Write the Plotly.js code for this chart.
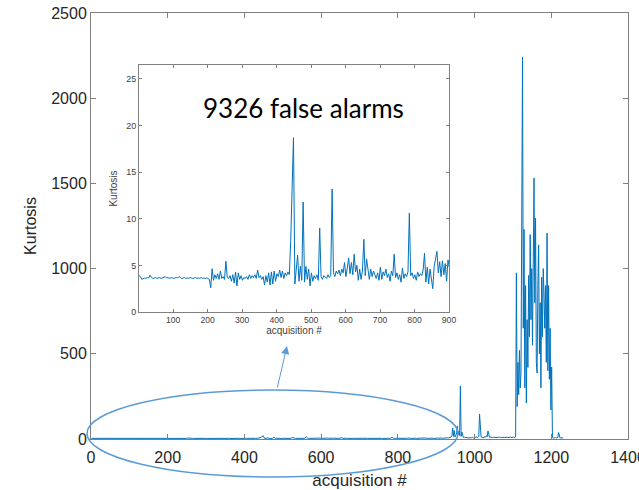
<!DOCTYPE html>
<html>
<head>
<meta charset="utf-8">
<script src="https://cdn.plot.ly/plotly-3.0.1.min.js"></script>
<style>html,body{margin:0;padding:0;background:#fff;}#chart{width:639px;height:490px;}</style>
</head>
<body>
<div id="chart"></div>
<script>
// Kurtosis per acquisition, acquisitions 1..897 (every 4th acquisition)
const acqStartA = 1, acqStepA = 4;
const kurtosisA = [
  3.9, 3.8, 3.5, 3.6, 3.65, 3.6, 3.7, 3.65, 3.95, 3.7,      // 1..37
  3.6, 3.65, 3.7, 3.6, 3.65, 3.7, 3.6, 3.65, 3.75, 3.8,     // 41..77
  3.65, 3.7, 3.6, 3.65, 3.7, 3.6, 3.65, 3.7, 3.65, 3.8,     // 81..117
  3.7, 3.6, 3.65, 3.7, 3.6, 3.65, 3.6, 3.7, 3.65, 3.6,      // 121..157
  3.65, 3.7, 3.6, 3.65, 3.6, 3.7, 3.6, 3.65, 3.6, 3.65,     // 161..197
  3.6, 3.5, 2.6, 4.65, 3.4, 4.0, 3.6, 4.1, 3.5, 4.4,        // 201..237
  3.6, 3.8, 3.5, 5.45, 3.7, 3.6, 3.9, 3.3, 4.0, 3.1,        // 241..277
  4.3, 2.8, 4.2, 3.5, 3.9, 3.4, 3.7, 3.6, 3.8, 3.5,         // 281..317
  4.0, 3.6, 3.9, 3.7, 4.0, 3.6, 4.5, 3.7, 3.9, 3.5,         // 321..357
  3.8, 2.9, 3.9, 3.2, 4.2, 2.9, 4.3, 3.0, 4.4, 3.3,         // 361..397
  4.1, 3.8, 4.5, 3.7, 4.4, 3.6, 4.2, 3.9, 4.3, 4.0,         // 401..437
  7.7, 12.5, 18.7, 3.0, 4.8, 6.1, 3.3, 4.9, 3.4, 11.8,      // 441..477
  3.2, 4.9, 3.5, 4.6, 2.8, 4.2, 3.3, 3.9, 3.6, 4.0,         // 481..517
  3.4, 9.0, 3.8, 3.5, 3.9, 3.7, 3.6, 4.0, 3.7, 3.9,         // 521..557
  13.2, 4.2, 3.8, 4.4, 4.1, 4.5, 3.9, 4.6, 4.2, 5.3,        // 561..597
  3.8, 4.7, 5.8, 4.1, 5.3, 4.0, 6.2, 4.3, 5.0, 3.4,         // 601..637
  4.6, 3.5, 4.4, 7.8, 3.9, 5.7, 4.3, 3.5, 4.6, 3.8,         // 641..677
  4.4, 4.0, 3.6, 4.2, 3.4, 4.8, 3.5, 4.3, 3.9, 4.6,         // 681..717
  3.7, 4.1, 3.3, 4.4, 3.9, 6.2, 3.7, 4.2, 3.5, 4.0,         // 721..757
  3.2, 4.7, 3.6, 4.1, 3.8, 4.3, 10.6, 3.9, 4.2, 3.6,        // 761..797
  4.0, 3.4, 4.3, 3.8, 4.1, 3.9, 4.5, 6.3, 3.2, 4.8,         // 801..837
  3.0, 4.6, 3.3, 2.5, 4.9, 5.6, 6.5, 4.2, 5.4, 3.8,         // 841..877
  5.5, 4.0, 5.2, 3.3, 5.6                                   // 881..897
];
// Kurtosis per acquisition, acquisitions 901..1231 (every 2nd acquisition)
const acqStartB = 901, acqStepB = 2;
const kurtosisB = [
  4.8, 5.5, 4.2, 5.8, 4.6, 5.2, 6.0, 4.4, 5.1, 4.7,         // 901..919
  5.6, 4.9, 6.5, 5.0, 7.0, 5.5, 8.0, 6.0, 9.0, 12,          // 921..939
  20, 64, 15, 50, 12, 18, 30, 76, 25, 45,                   // 941..959
  20, 311, 15, 40, 10, 8, 12, 7, 9, 6,                      // 961..979
  8, 6, 7, 9, 6, 8, 7, 10, 6, 8,                            // 981..999
  7, 9, 12, 8, 10, 15, 147, 30, 12, 10,                     // 1001..1019
  9, 12, 8, 15, 10, 20, 14, 47, 18, 10,                     // 1021..1039
  12, 9, 11, 8, 10, 9, 12, 8, 10, 9,                        // 1041..1059
  11, 8, 10, 9, 12, 8, 10, 9, 11, 8,                        // 1061..1079
  10, 9, 11, 8, 10, 9, 12, 8, 10, 9,                        // 1081..1099
  11, 8, 10, 12, 975, 190, 450, 260, 520, 300,              // 1101..1119
  380, 1170, 2242, 650, 1230, 300, 900, 211, 700, 420,      // 1121..1139
  960, 600, 1200, 700, 1000, 550, 1100, 1532, 800, 1297,    // 1141..1159
  450, 387, 900, 1139, 500, 800, 300, 950, 600, 1000,       // 1161..1179
  850, 650, 900, 450, 1209, 400, 900, 350, 650, 170,        // 1181..1199
  422, 8, 6, 5, 7, 8, 6, 9, 8, 38,                          // 1201..1219
  6, 5, 7, 6, 5, 6                                          // 1221..1231
];
const mainXTicks = [0, 200, 400, 600, 800, 1000, 1200, 1400];
const mainYTicks = [0, 500, 1000, 1500, 2000, 2500];
const insetXTicks = [100, 200, 300, 400, 500, 600, 700, 800, 900];
const insetYTicks = [0, 5, 10, 15, 20, 25];
const insetLabel = '9326 false alarms';

const acq = [], kurt = [];
kurtosisA.forEach((v, i) => { acq.push(acqStartA + i * acqStepA); kurt.push(v); });
kurtosisB.forEach((v, i) => { acq.push(acqStartB + i * acqStepB); kurt.push(v); });

const lineColor = '#0072BD';
const axisGray = '#808080';
const mainFont = 'Liberation Sans, Arial, sans-serif';

const data = [
  {x: acq, y: kurt, type: 'scatter', mode: 'lines', line: {color: lineColor, width: 1}, xaxis: 'x', yaxis: 'y', hoverinfo: 'skip'},
  {x: acq, y: kurt, type: 'scatter', mode: 'lines', line: {color: lineColor, width: 1}, xaxis: 'x2', yaxis: 'y2', hoverinfo: 'skip'}
];

const ml = 91, mr = 11, mt = 13, mb = 51;
const pw = 639 - ml - mr, ph = 490 - mt - mb;
const px = v => (v - ml) / pw;          // page x -> paper
const py = v => (490 - mb - v) / ph;    // page y -> paper

const layout = {
  width: 639, height: 490,
  margin: {l: ml, r: mr, t: mt, b: mb, pad: 0},
  paper_bgcolor: '#fff', plot_bgcolor: '#fff',
  showlegend: false,
  font: {family: mainFont, color: '#262626'},
  xaxis: {
    range: [0, 1400], tickvals: mainXTicks, ticks: 'inside', ticklen: 5, tickcolor: axisGray,
    showline: true, linecolor: axisGray, linewidth: 1, mirror: 'ticks', showgrid: false, zeroline: false,
    tickfont: {size: 16, color: '#262626'}, ticklabeloverflow: 'allow', ticklabelstandoff: 4,
    title: {text: 'acquisition #', font: {size: 17, color: '#262626'}, standoff: 12}
  },
  yaxis: {
    range: [0, 2500], tickvals: mainYTicks, ticks: 'inside', ticklen: 5, tickcolor: axisGray,
    showline: true, linecolor: axisGray, linewidth: 1, mirror: 'ticks', showgrid: false, zeroline: false,
    tickfont: {size: 16, color: '#262626'},
    title: {text: 'Kurtosis', font: {size: 16, color: '#262626'}, standoff: 10}
  },
  xaxis2: {
    domain: [px(139), px(449)], anchor: 'y2',
    range: [1, 900], tickvals: insetXTicks, ticks: 'inside', ticklen: 3, tickcolor: axisGray,
    showline: true, linecolor: axisGray, linewidth: 1, mirror: 'ticks', showgrid: false, zeroline: false,
    tickfont: {size: 8.6, color: '#404040'}, ticklabeloverflow: 'allow',
    title: {text: 'acquisition #', font: {size: 10, color: '#404040'}, standoff: 2}
  },
  yaxis2: {
    domain: [py(312), py(65)], anchor: 'x2',
    range: [0, 26.5], tickvals: insetYTicks, ticks: 'inside', ticklen: 3, tickcolor: axisGray,
    showline: true, linecolor: axisGray, linewidth: 1, mirror: 'ticks', showgrid: false, zeroline: false,
    tickfont: {size: 9, color: '#404040'},
    title: {text: 'Kurtosis', font: {size: 10, color: '#404040'}, standoff: 6}
  },
  shapes: [
    {type: 'circle', xref: 'paper', yref: 'paper', x0: px(87), x1: px(458), y0: py(477), y1: py(390),
     line: {color: '#5B9BD5', width: 1.5}, fillcolor: 'rgba(0,0,0,0)'}
  ],
  annotations: [
    {xref: 'paper', yref: 'paper', x: px(303), y: py(108), text: insetLabel, showarrow: false,
     xanchor: 'center', yanchor: 'middle', font: {family: 'Lato, sans-serif', size: 26, color: '#000'}},
    {xref: 'paper', yref: 'paper', x: px(287), y: py(346), text: '', showarrow: true,
     ax: -10, ay: 43, arrowhead: 2, arrowsize: 1.6, arrowwidth: 1, arrowcolor: '#5B9BD5', standoff: 0, startstandoff: 0}
  ]
};

Plotly.newPlot('chart', data, layout, {displayModeBar: false, staticPlot: true});
</script>
</body>
</html>
